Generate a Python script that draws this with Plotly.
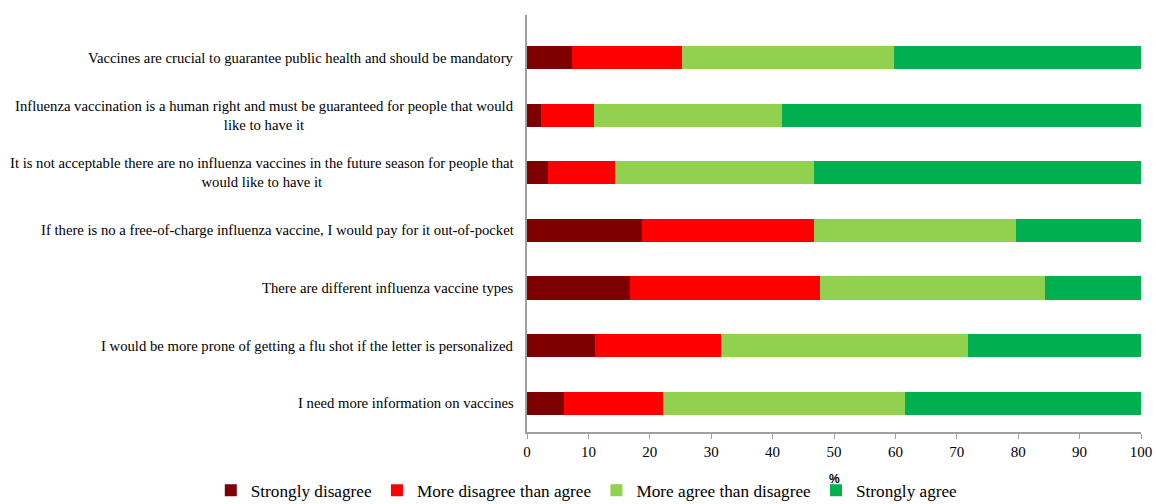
import plotly.graph_objects as go

statements = [
    "Vaccines are crucial to guarantee public health and should be mandatory",
    "Influenza vaccination is a human right and must be guaranteed for people that would<br>like to have it",
    "It is not acceptable there are no influenza vaccines in the future season for people that<br>would like to have it",
    "If there is no a free-of-charge influenza vaccine, I would pay for it out-of-pocket",
    "There are different influenza vaccine types",
    "I would be more prone of getting a flu shot if the letter is personalized",
    "I need more information on vaccines",
]
strongly_disagree = [7.3, 2.3, 3.5, 18.8, 16.8, 11.1, 6.0]
more_disagree = [17.9, 8.6, 10.9, 28.0, 30.9, 20.5, 16.2]
more_agree = [34.6, 30.6, 32.3, 32.9, 36.6, 40.2, 39.3]
strongly_agree = [40.2, 58.5, 53.3, 20.3, 15.7, 28.2, 38.5]

series_names = ["Strongly disagree", "More disagree than agree",
                "More agree than disagree", "Strongly agree"]
series_values = [strongly_disagree, more_disagree, more_agree, strongly_agree]
colors = ["#7F0000", "#FF0000", "#92D050", "#00B050"]
x_ticks = list(range(0, 101, 10))
x_title = "%"

cats = [f"c{i}" for i in range(len(statements))]

fig = go.Figure()
for name, vals, col in zip(series_names, series_values, colors):
    fig.add_trace(go.Bar(
        y=cats, x=vals, name=name, orientation="h",
        marker=dict(color=col, line=dict(width=0)),
    ))

serif = "Liberation Serif"
for c, s in zip(cats, statements):
    fig.add_annotation(
        x=0, xref="paper", xanchor="right", xshift=-11,
        y=c, yref="y", yanchor="middle",
        text=s, align="center", showarrow=False,
        font=dict(family=serif, size=14.7, color="#000000"),
    )

fig.add_annotation(
    x=50, xref="x", xanchor="center",
    y=-0.113, yref="paper", yanchor="middle",
    text=f"<b>{x_title}</b>", showarrow=False,
    font=dict(family="Liberation Sans", size=12, color="#000000"),
)

fig.update_layout(
    barmode="stack",
    bargap=0.6,
    width=1156, height=504,
    margin=dict(l=527, r=15, t=15, b=72, autoexpand=False),
    plot_bgcolor="white", paper_bgcolor="white",
    showlegend=True,
    legend=dict(
        orientation="h", xref="paper", yref="paper",
        x=-0.515, xanchor="left", y=-0.097, yanchor="top",
        font=dict(family=serif, size=17.2, color="#000000"),
        traceorder="normal", itemwidth=30,
    ),
    xaxis=dict(
        range=[0, 100], tickvals=x_ticks,
        showgrid=False, zeroline=False,
        showline=True, linecolor="#a0a0a0", linewidth=1.5,
        ticks="outside", ticklen=5, tickcolor="#a0a0a0",
        tickfont=dict(family=serif, size=15, color="#000000"),
    ),
    yaxis=dict(
        categoryorder="array", categoryarray=list(reversed(cats)),
        range=[-0.5, 6.74],
        showticklabels=False, showgrid=False, zeroline=False,
        showline=True, linecolor="#a0a0a0", linewidth=2, ticks="",
    ),
)

fig.write_html("out.html", config={"displayModeBar": False},
               post_script="document.body.style.margin='0';")
